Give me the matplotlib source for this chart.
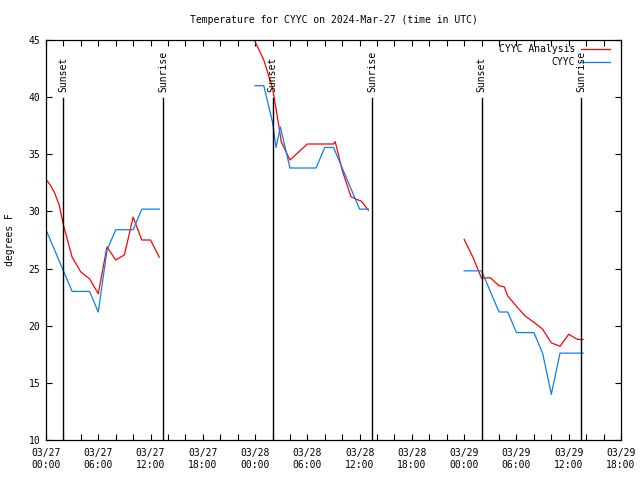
import matplotlib
matplotlib.use("Agg")
import matplotlib.pyplot as plt
import numpy as np

# ---- data (hours since 2024-03-27 00:00 UTC) ----
analysis_t1 = [0, 0.5, 1, 1.5, 2, 3, 4, 5, 6, 7, 8, 9, 10, 11, 12, 13]
analysis_v1 = [32.8, 32.3, 31.6, 30.6, 28.8, 26.0, 24.7, 24.1, 22.8, 26.9, 25.75, 26.2, 29.5, 27.5, 27.5, 26.0]
analysis_t2 = [24, 25, 26, 26.4, 26.7, 27, 28, 29, 30, 31, 32, 33, 33.2, 34, 35, 35.5, 36.2, 37]
analysis_v2 = [44.85, 43.25, 40.8, 39.0, 37.6, 36.1, 34.5, 35.2, 35.9, 35.9, 35.9, 35.9, 36.1, 33.6, 31.3, 31.1, 30.9, 30.1]
analysis_t3 = [48, 49, 50, 51, 52, 52.6, 53, 54, 55, 56, 57, 58, 59, 60, 61, 61.65]
analysis_v3 = [27.55, 26.0, 24.15, 24.2, 23.5, 23.4, 22.6, 21.7, 20.85, 20.3, 19.7, 18.5, 18.2, 19.25, 18.8, 18.8]

obs_t1 = [0, 1, 2, 3, 4, 5, 6, 7, 8, 9, 10, 11, 12, 13]
obs_v1 = [28.4, 26.6, 24.8, 23.0, 23.0, 23.0, 21.2, 26.6, 28.4, 28.4, 28.4, 30.2, 30.2, 30.2]
obs_t2 = [24, 25, 26, 26.4, 26.9, 28, 29, 30, 31, 32, 33, 34, 35, 36, 37]
obs_v2 = [41.0, 41.0, 37.8, 35.6, 37.4, 33.8, 33.8, 33.8, 33.8, 35.6, 35.6, 33.8, 32.0, 30.2, 30.2]
obs_t3 = [48, 49, 50, 51, 52, 53, 54, 55, 56, 57, 58, 59, 60, 61, 61.65]
obs_v3 = [24.8, 24.8, 24.8, 23.0, 21.2, 21.2, 19.4, 19.4, 19.4, 17.6, 14.0, 17.6, 17.6, 17.6, 17.6]

sun_times = [2.0, 13.45, 26.03, 37.45, 50.03, 61.42]
sun_labels = ["Sunset", "Sunrise", "Sunset", "Sunrise", "Sunset", "Sunrise"]

xtick_pos = [0, 6, 12, 18, 24, 30, 36, 42, 48, 54, 60, 66]
xtick_labels = ["03/27\n00:00", "03/27\n06:00", "03/27\n12:00", "03/27\n18:00",
                "03/28\n00:00", "03/28\n06:00", "03/28\n12:00", "03/28\n18:00",
                "03/29\n00:00", "03/29\n06:00", "03/29\n12:00", "03/29\n18:00"]
ytick_pos = [10, 15, 20, 25, 30, 35, 40, 45]

title = "Temperature for CYYC on 2024-Mar-27 (time in UTC)"
ylabel = "degrees F"
legend_labels = ["CYYC Analysis", "CYYC"]

RED = "#ff0000"
BLUE = "#0a80f0"

plt.rcParams['font.family'] = ['DejaVu Sans Mono']
FS = 7

fig = plt.figure(figsize=(6.4, 4.8), dpi=100)
ax = fig.add_axes([46/640, 40/480, 575/640, 400/480])

for t, v in [(analysis_t1, analysis_v1), (analysis_t2, analysis_v2), (analysis_t3, analysis_v3)]:
    ax.plot(t, v, color=RED, lw=0.9)
for t, v in [(obs_t1, obs_v1), (obs_t2, obs_v2), (obs_t3, obs_v3)]:
    ax.plot(t, v, color=BLUE, lw=0.9)

for st, sl in zip(sun_times, sun_labels):
    ax.axvline(st, ymin=0, ymax=0.855, color="black", lw=1.0)
    ax.text(st, 0.871, sl, rotation=90, ha="center", va="bottom",
            transform=ax.get_xaxis_transform(), fontsize=FS)

ax.set_xlim(0, 66)
ax.set_ylim(10, 45)
ax.set_xticks(xtick_pos)
ax.set_xticklabels(xtick_labels, fontsize=FS)
ax.set_xticks(np.arange(0, 67, 2), minor=True)
ax.set_yticks(ytick_pos)
ax.set_yticklabels([str(y) for y in ytick_pos], fontsize=FS)
ax.tick_params(axis="both", which="both", direction="in", top=True, right=True,
               length=4, width=0.8)
ax.tick_params(axis="x", which="major", pad=6)
ax.tick_params(axis="y", which="major", pad=4)
for s in ax.spines.values():
    s.set_linewidth(0.9)

# legend
ax.text(0.92, 0.9775, legend_labels[0], ha="right", va="center", transform=ax.transAxes, fontsize=FS)
ax.text(0.92, 0.945, legend_labels[1], ha="right", va="center", transform=ax.transAxes, fontsize=FS)
ax.plot([0.930, 0.981], [0.9775, 0.9775], color=RED, lw=0.9, transform=ax.transAxes, clip_on=False)
ax.plot([0.930, 0.981], [0.945, 0.945], color=BLUE, lw=0.9, transform=ax.transAxes, clip_on=False)

fig.text(333.5/640, 1 - 20/480, title, ha="center", va="center", fontsize=FS)
fig.text(10/640, 0.5, ylabel, rotation=90, ha="center", va="center", fontsize=FS)

fig.savefig("out.png", dpi=100)
